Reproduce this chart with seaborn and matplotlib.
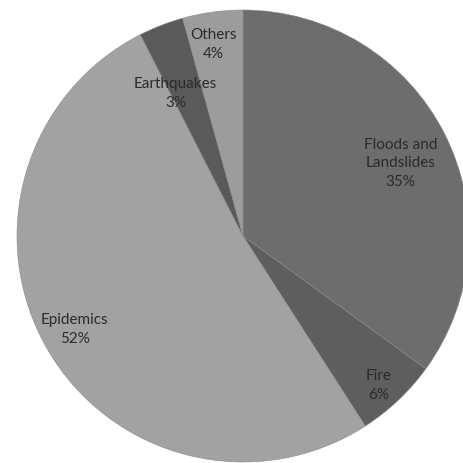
import numpy as np
import matplotlib
matplotlib.use("Agg")
import matplotlib.pyplot as plt
import seaborn as sns

categories = ["Floods and\nLandslides", "Fire", "Epidemics", "Earthquakes", "Others"]
values = [35.0, 5.9, 51.6, 3.2, 4.3]
pct_labels = ["35%", "6%", "52%", "3%", "4%"]

colors = ["#6d6d6d", "#5e5e5e", "#a2a2a2", "#5a5a5a", "#9c9c9c"]
label_r = [0.77, 0.89, 0.85, 0.70, 0.86]
label_dang = [-2.0, -1.0, -1.0, 4.0, 1.0]

sns.set_theme(style="white")
plt.rcParams['font.family'] = ['Lato', 'DejaVu Sans']

fig = plt.figure(figsize=(4.64, 4.64), dpi=100)
cx, cy, r = 243 / 464, 1 - 237 / 464, 226 / 464
ax = fig.add_axes([cx - r, cy - r, 2 * r, 2 * r])
wedges, _ = ax.pie(values, colors=colors, startangle=90, counterclock=False,
                   radius=1.0, wedgeprops=dict(edgecolor="#8a8a8a", linewidth=0.4))
for w, cat, p, lr, da in zip(wedges, categories, pct_labels, label_r, label_dang):
    ang = np.deg2rad((w.theta1 + w.theta2) / 2 + da)
    ax.text(lr * np.cos(ang), lr * np.sin(ang), f"{cat}\n{p}", ha="center", va="center",
            fontsize=11, color="#2a2a2a", linespacing=1.45)
ax.set_xlim(-1, 1)
ax.set_ylim(-1, 1)
ax.set_aspect("equal")
ax.axis("off")
fig.savefig("out.png", dpi=100)
